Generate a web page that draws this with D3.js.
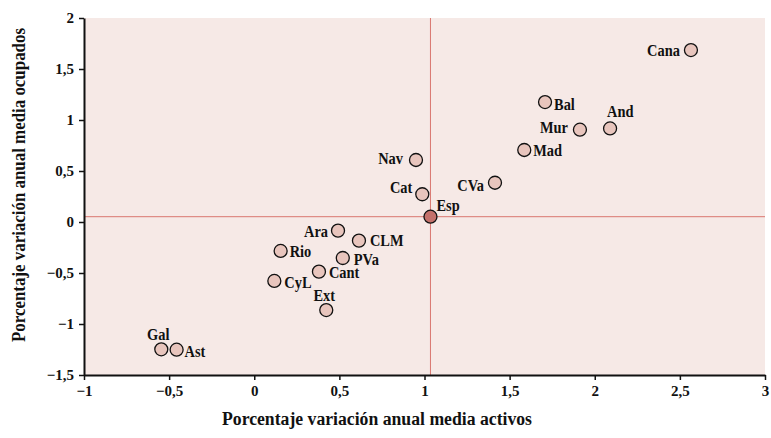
<!DOCTYPE html>
<html>
<head>
<meta charset="utf-8">
<script src="https://cdn.jsdelivr.net/npm/d3@7"></script>
<style>
  html, body { margin: 0; padding: 0; background: #ffffff; }
  svg text { font-family: "Liberation Serif", "DejaVu Serif", serif; font-weight: bold; fill: #111; }
</style>
</head>
<body>
<svg id="chart" width="771" height="438"></svg>
<script>
// ---- Data ----
const regions = ["Cana","Bal","And","Mur","Mad","CVa","Nav","Cat","Esp","Ara","CLM","PVa","Rio","Cant","CyL","Ext","Gal","Ast"];
const activos = [2.565,1.708,2.09,1.913,1.586,1.414,0.950,0.987,1.035,0.492,0.615,0.520,0.155,0.380,0.118,0.423,-0.546,-0.456];
const ocupados = [1.686,1.176,0.917,0.905,0.706,0.385,0.608,0.272,0.052,-0.085,-0.183,-0.353,-0.284,-0.487,-0.578,-0.863,-1.248,-1.252];
const xTicks = [-1,-0.5,0,0.5,1,1.5,2,2.5,3];
const yTicks = [-1.5,-1,-0.5,0,0.5,1,1.5,2];
const refName = "Esp";
const xTitle = "Porcentaje variación anual media activos";
const yTitle = "Porcentaje variación anual media ocupados";

// ---- Label placement (presentation) ----
const labelPlace = {
  Cana: ["end", -11, 6], Bal: ["start", 9, 8], And: ["start", -3, -11], Mur: ["end", -12, 3],
  Mad: ["start", 9, 6], CVa: ["end", -11, 8], Nav: ["end", -13, 4], Cat: ["end", -10, -1],
  Esp: ["start", 6, -6], Ara: ["end", -10, 6], CLM: ["start", 11, 5], PVa: ["start", 11, 7],
  Rio: ["start", 9, 6], Cant: ["start", 10, 6], CyL: ["start", 10, 7], Ext: ["middle", -2, -9],
  Gal: ["middle", -3, -9], Ast: ["start", 8, 7]
};

// ---- Layout ----
const svg = d3.select("#chart");
const L = 84, R = 765, T = 18, B = 375;
const x = d3.scaleLinear().domain([-1, 3]).range([L, R]);
const y = d3.scaleLinear().domain([-1.5, 2]).range([B, T]);
const fmt = d => d3.format("")(d).replace(".", ",").replace("-", "\u2212");

svg.append("rect").attr("x", L).attr("y", T).attr("width", R - L).attr("height", B - T).attr("fill", "#f6e9e6");

const ref = { x: activos[regions.indexOf(refName)], y: ocupados[regions.indexOf(refName)] };
svg.append("line").attr("x1", L).attr("x2", R).attr("y1", y(ref.y)).attr("y2", y(ref.y))
  .attr("stroke", "#d9776f").attr("stroke-width", 1);
svg.append("line").attr("x1", x(ref.x)).attr("x2", x(ref.x)).attr("y1", T).attr("y2", B)
  .attr("stroke", "#d9776f").attr("stroke-width", 1);

// axes
const xAxis = svg.append("g").attr("transform", `translate(0,${B})`)
  .call(d3.axisBottom(x).tickValues(xTicks).tickFormat(fmt).tickSize(5).tickSizeOuter(0).tickPadding(5));
const yAxis = svg.append("g").attr("transform", `translate(${L},0)`)
  .call(d3.axisLeft(y).tickValues(yTicks).tickFormat(fmt).tickSize(5).tickSizeOuter(0).tickPadding(5));
[xAxis, yAxis].forEach(a => {
  a.select(".domain").attr("stroke", "#111").attr("stroke-width", 2);
  a.selectAll(".tick line").attr("stroke", "#111").attr("stroke-width", 1.5);
  a.selectAll("text").attr("font-size", 15).attr("font-family", null).attr("fill", "#111");
});

// points
const data = regions.map((r, i) => ({ name: r, x: activos[i], y: ocupados[i] }));
svg.append("g").selectAll("circle").data(data).join("circle")
  .attr("cx", d => x(d.x)).attr("cy", d => y(d.y)).attr("r", 6.5)
  .attr("fill", d => d.name === refName ? "#c4716b" : "#e8c5bd")
  .attr("stroke", "#111").attr("stroke-width", 1.3);

svg.append("g").selectAll("text").data(data).join("text")
  .attr("transform", d => {
    const p = labelPlace[d.name];
    return `translate(${x(d.x) + p[1]},${y(d.y) + p[2]}) scale(0.9,1)`;
  })
  .attr("text-anchor", d => labelPlace[d.name][0])
  .attr("font-size", 16)
  .text(d => d.name);

// titles
svg.append("text").attr("x", 377).attr("y", 425).attr("text-anchor", "middle")
  .attr("font-size", 18).attr("textLength", 310).attr("lengthAdjust", "spacingAndGlyphs").text(xTitle);
svg.append("text").attr("transform", `translate(25,185) rotate(-90)`).attr("text-anchor", "middle")
  .attr("font-size", 18).attr("textLength", 314).attr("lengthAdjust", "spacingAndGlyphs").text(yTitle);
</script>
</body>
</html>
